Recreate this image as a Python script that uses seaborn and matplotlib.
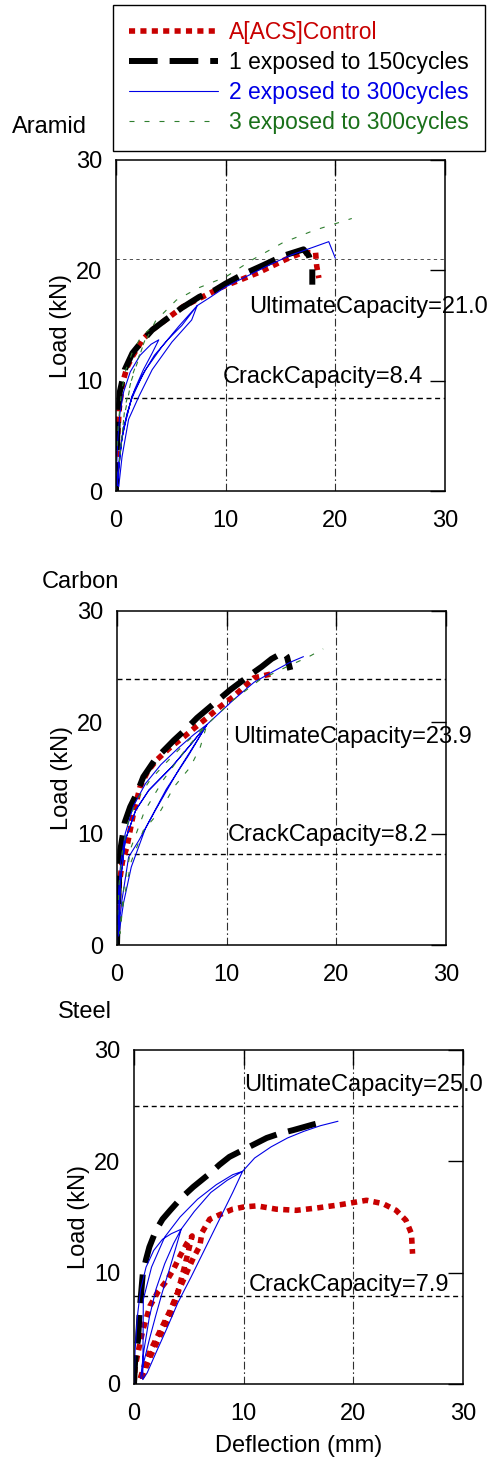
import numpy as np
import pandas as pd
import matplotlib
matplotlib.use("Agg")
import matplotlib.pyplot as plt
import seaborn as sns

# ---------------- data ----------------
panel_names = ["Aramid", "Carbon", "Steel"]
series_labels = ["A[ACS]Control", "1 exposed to 150cycles",
                 "2 exposed to 300cycles", "3 exposed to 300cycles"]
ultimate_caps = [21.0, 23.9, 25.0]
crack_caps = [8.4, 8.2, 7.9]
axis_ticks = [0, 10, 20, 30]

# Aramid
aramid_ctrl_x = [0, 0.05, 0.15, 0.3, 0.6, 1.0, 1.5, 2.4, 3.3, 4.5, 6.1, 7.9, 9.7, 11.5, 13.0, 15.5, 17.0, 18.2, 18.3, 18.5]
aramid_ctrl_y = [0, 2.5, 5, 7.5, 9.8, 11.2, 12.2, 13.7, 14.6, 15.5, 16.7, 17.6, 18.5, 19.2, 19.8, 21.0, 21.6, 21.6, 20.4, 19.3]
aramid_s1_x = [0, 0.05, 0.15, 0.35, 0.8, 1.5, 2.4, 3.3, 4.5, 6.0, 7.6, 9.0, 10.0, 11.5, 13.5, 15.2, 17.1, 17.6, 17.9, 17.9]
aramid_s1_y = [0, 3, 6, 9, 11, 12.5, 13.6, 14.6, 15.5, 16.6, 17.6, 18.2, 18.8, 19.6, 20.5, 21.3, 21.9, 21.3, 20.1, 18.7]
aramid_s2_x = [0, 0.05, 0.15, 0.35, 0.7, 1.3, 2.2, 3.2, 3.9,
               3.3, 2.5, 1.7, 1.0, 0.5, 0.2, 0.1,
               0.3, 0.7, 1.4, 2.4, 3.5, 4.8, 6.0, 7.4,
               5.7, 4.2, 2.7, 1.45, 0.55, 0.1,
               0.25, 0.55, 1.15, 2.1, 3.3, 5.1, 6.9, 7.4,
               8.5, 10.0, 12.0, 14.0, 16.0, 18.0, 19.4, 20.0]
aramid_s2_y = [0, 2, 4.5, 7, 9, 10.8, 12.3, 13.3, 13.7,
               12.5, 11, 9.2, 7, 4.5, 1.5, 0.5,
               3.0, 5.8, 8.3, 10.5, 12.3, 13.8, 15.0, 16.8,
               14.9, 13.1, 11, 8.6, 4.9, 0.7,
               0.4, 3.1, 6.5, 8.6, 11, 13.5, 15.5, 16.8,
               17.5, 18.5, 19.5, 20.5, 21.4, 22.1, 22.6, 21.1]
aramid_s3_x = [0, 0.05, 0.2, 0.5, 0.9, 1.5, 2.3, 3.0, 2.3, 1.5, 0.8, 0.3, 0.7, 1.4, 2.4, 3.6, 5.5, 7.5, 10.0, 12.5, 15.2, 18.0, 21.5]
aramid_s3_y = [0, 3, 6, 9, 11, 12.6, 14.0, 14.6, 12.8, 10.5, 7.5, 2.5, 6.5, 10, 13, 15.4, 17.3, 18.4, 19.4, 21.0, 22.5, 23.6, 24.7]

# Carbon
carbon_ctrl_x = [0, 0.05, 0.2, 0.5, 0.9, 1.5, 2.1, 2.8, 3.6, 4.8, 6.1, 7.2, 8.2, 9.4, 10.6, 11.6, 12.5, 13.4, 14.3]
carbon_ctrl_y = [0, 3, 5.5, 7.5, 8.8, 11.8, 14.2, 15.6, 16.6, 17.7, 18.7, 19.6, 20.4, 21.4, 22.3, 23.2, 24.0, 24.2, 24.4]
carbon_s1_x = [0, 0.05, 0.15, 0.3, 0.7, 1.2, 1.8, 2.4, 3.5, 5.2, 6.3, 7.3, 8.5, 10.3, 12.2, 13.2, 14.1, 15.2, 15.5, 15.8]
carbon_s1_y = [0, 2, 5, 8.5, 11, 12.4, 13.6, 15.1, 16.7, 18.4, 19.4, 20.4, 21.4, 22.9, 24.3, 25.0, 25.7, 26.3, 25.9, 24.7]
carbon_s2_x = [0, 0.05, 0.15, 0.35, 0.75, 1.5, 2.6, 4.0, 5.6, 7.0, 8.2,
               6.8, 5.0, 2.9, 1.7, 0.75, 0.3, 0.1,
               0.45, 1.06, 2.0, 3.5, 5.6, 7.2, 8.2,
               6.5, 4.5, 2.6, 1.3, 0.6, 0.15,
               0.3, 0.75, 1.7, 2.9, 5.0, 6.8, 8.2,
               10.6, 12.5, 14.3, 15.8, 17.0]
carbon_s2_y = [0, 2.5, 5, 7.5, 10, 12.5, 14.5, 16.2, 17.7, 18.9, 19.8,
               18.1, 16.0, 13.9, 12.1, 9.4, 5.6, 1.0,
               4.0, 7.9, 9.4, 12.1, 15.7, 18.2, 19.8,
               17.0, 14.0, 10.5, 7.0, 3.8, 0.8,
               5.6, 9.4, 12.1, 13.9, 16.0, 18.1, 19.8,
               22.0, 23.6, 24.6, 25.4, 25.9]
carbon_s3_x = [0, 0.05, 0.2, 0.5, 1.0, 1.8, 3.0, 4.5, 6.3, 8.2, 7.6, 6.7, 5.2, 4.0, 2.4, 1.3, 0.6, 0.25,
               0.6, 1.3, 2.5, 4.2, 6.2, 8.2, 10.6, 13.0, 15.5, 17.5, 18.8]
carbon_s3_y = [0, 2.5, 5.5, 8.5, 11, 13, 14.8, 16.4, 18.2, 19.8, 17.8, 16.0, 14.2, 12.1, 10.3, 7.5, 4.0, 1.0,
               5.0, 8.8, 12.0, 14.8, 17.5, 19.8, 22.0, 23.8, 25.0, 25.9, 26.6]

# Steel
steel_ctrl_x = [0, 0.1, 0.4, 0.8, 1.45, 2.2, 3.0, 3.6, 4.2, 4.8, 5.3, 4.6, 3.9, 3.3, 2.4, 1.5, 0.8, 0.5,
                1.0, 1.5, 2.4, 3.3, 3.9, 4.8, 5.4, 6.0, 6.2, 6.9, 7.8, 9.0, 10.0, 11.2, 13.0, 14.8, 16.6,
                18.8, 21.2, 22.7, 23.9, 24.8, 25.3, 25.4]
steel_ctrl_y = [0, 1.5, 3, 4.8, 7, 8.3, 9.3, 10.3, 11.5, 12.6, 13.3, 10.5, 7.9, 6.2, 4.4, 2.5, 0.8, 0.3,
                1.8, 3, 4.8, 6.6, 8, 10, 11.3, 12.4, 13.6, 14.8, 15.2, 15.7, 15.9, 16.0, 15.7, 15.6, 15.8,
                16.1, 16.5, 16.2, 15.6, 14.7, 13.5, 11.7]
steel_s1_x = [0, 0.1, 0.2, 0.36, 0.55, 0.8, 1.1, 1.4, 2.0, 2.6, 3.3, 4.3, 5.4, 6.9, 7.8, 8.7, 9.9, 10.9, 12.1, 13.3, 14.5, 16.3, 17.5]
steel_s1_y = [0, 2, 3, 3.9, 7, 9.9, 11.2, 12.3, 13.8, 14.8, 15.6, 16.7, 17.7, 18.9, 19.7, 20.4, 21.0, 21.5, 22.1, 22.5, 22.8, 23.3, 23.6]
steel_s2_x = [0, 0.1, 0.3, 0.6, 1.1, 1.8, 2.6, 3.4, 4.3, 3.8, 3.2, 2.6, 2.0, 1.4, 0.9, 0.6,
              0.9, 1.4, 2.0, 2.8, 3.6, 4.3, 5.5, 7.0, 8.5, 9.9, 9.0, 7.8, 6.5, 5.2, 4.0, 3.0, 2.0, 1.2, 0.8,
              0.85, 1.6, 2.8, 4.2, 5.8, 7.5, 9.0, 9.9, 11.0, 12.5, 14.0, 15.5, 17.0, 18.6]
steel_s2_y = [0, 3, 6, 8.5, 10.5, 12.0, 13.0, 13.5, 13.9, 12.2, 10.2, 8.3, 6.2, 4.0, 2.0, 0.5,
              3, 6, 8.5, 10.8, 12.6, 13.9, 15.5, 17.2, 18.3, 19.1, 17.2, 14.8, 12.2, 9.6, 7.3, 5.0, 2.8, 1.0, 0.4,
              7.6, 10.5, 13.2, 15.0, 16.6, 17.9, 18.8, 19.1, 20.3, 21.3, 22.1, 22.7, 23.2, 23.6]

panels = [
    [(aramid_ctrl_x, aramid_ctrl_y), (aramid_s1_x, aramid_s1_y), (aramid_s2_x, aramid_s2_y), (aramid_s3_x, aramid_s3_y)],
    [(carbon_ctrl_x, carbon_ctrl_y), (carbon_s1_x, carbon_s1_y), (carbon_s2_x, carbon_s2_y), (carbon_s3_x, carbon_s3_y)],
    [(steel_ctrl_x, steel_ctrl_y), (steel_s1_x, steel_s1_y), (steel_s2_x, steel_s2_y), None],
]

# ---------------- style ----------------
sns.set_style("white")
plt.rcParams["font.family"] = ["Liberation Sans", "DejaVu Sans"]
plt.rcParams["text.color"] = "black"
plt.rcParams["axes.labelcolor"] = "black"
FS = 17
LFS = 16.5

colors = ["#c80000", "#000000", "#0000e6", "#2f7f2f"]
text_colors = ["#c80000", "#000000", "#0000e6", "#1a701a"]
styles = [
    dict(lw=4.0, ls=(0, (1.1, 0.95))),
    dict(lw=4.3, ls=(0, (4.8, 2.0))),
    dict(lw=0.8, ls="-"),
    dict(lw=0.8, ls=(0, (4.5, 9))),
]

fig = plt.figure(figsize=(4.9, 14.59), dpi=100)
W, H = 490.0, 1459.0
boxes = [(116, 160, 445, 491), (117, 611, 446, 945), (134, 1050, 463, 1384)]
titles_pos = [(12, 127), (42, 582), (58, 1012)]
ult_text = [(12.1, 16.7), (10.6, 18.7), (10.0, 26.9)]
crack_text = [(9.7, 10.3), (10.1, 9.9), (10.5, 8.9)]

handles = []
for i, (l, t, r, b) in enumerate(boxes):
    ax = fig.add_axes([l / W, 1 - b / H, (r - l) / W, (b - t) / H])
    for k, s in enumerate(panels[i]):
        if s is None:
            continue
        df = pd.DataFrame({"x": s[0], "y": s[1]})
        sns.lineplot(data=df, x="x", y="y", ax=ax, sort=False, estimator=None,
                     color=colors[k], linewidth=styles[k]["lw"], linestyle=styles[k]["ls"],
                     label=series_labels[k] if i == 0 else None, legend=False)
        if i == 0:
            handles.append(ax.lines[-1])
    ax.set_xlim(0, 30)
    ax.set_ylim(0, 30)
    ax.set_xticks(axis_ticks)
    ax.set_yticks(axis_ticks)
    ax.tick_params(direction="in", length=11, width=1.0, top=True, right=True,
                   labelsize=FS, colors="black")
    ax.tick_params(axis="y", pad=10)
    ax.tick_params(axis="x", pad=14)
    for sp in ax.spines.values():
        sp.set_linewidth(1.1)
        sp.set_color("black")
    for xv in [10, 20]:
        ax.axvline(xv, color="#303030", lw=0.8, ls=(0, (7, 2.5, 1.5, 2.5)), zorder=0.5)
    if i == 0:
        ax.axhline(ultimate_caps[i], color="#505050", lw=0.7, ls=(0, (3.4, 3.4)), zorder=0.5)
    else:
        ax.axhline(ultimate_caps[i], color="black", lw=1.0, ls=(0, (3.6, 2.6)), zorder=0.5)
    ax.axhline(crack_caps[i], color="black", lw=1.0, ls=(0, (3.6, 2.6)), zorder=0.5)
    ax.text(ult_text[i][0], ult_text[i][1], f"UltimateCapacity={ultimate_caps[i]:.1f}",
            fontsize=FS, va="center", ha="left", clip_on=False)
    ax.text(crack_text[i][0], crack_text[i][1], f"CrackCapacity={crack_caps[i]:.1f}",
            fontsize=FS, va="center", ha="left", clip_on=False)
    ax.set_ylabel("Load (kN)", fontsize=FS, labelpad=3)
    if i == 2:
        ax.set_xlabel("Deflection (mm)", fontsize=FS, labelpad=7)
    else:
        ax.set_xlabel("")
    fig.text(titles_pos[i][0] / W, 1 - titles_pos[i][1] / H, panel_names[i],
             fontsize=FS, ha="left", va="center")

leg = fig.legend(handles, series_labels, loc="upper right",
                 bbox_to_anchor=(485 / W, 1 - 5 / H), borderaxespad=0,
                 frameon=True, fancybox=False, edgecolor="black", framealpha=1,
                 fontsize=LFS, handlelength=3.9, handletextpad=0.45,
                 labelspacing=0.3, borderpad=0.72)
leg.get_frame().set_linewidth(1.0)
for txt, c in zip(leg.get_texts(), text_colors):
    txt.set_color(c)

fig.savefig("out.png", dpi=100)
